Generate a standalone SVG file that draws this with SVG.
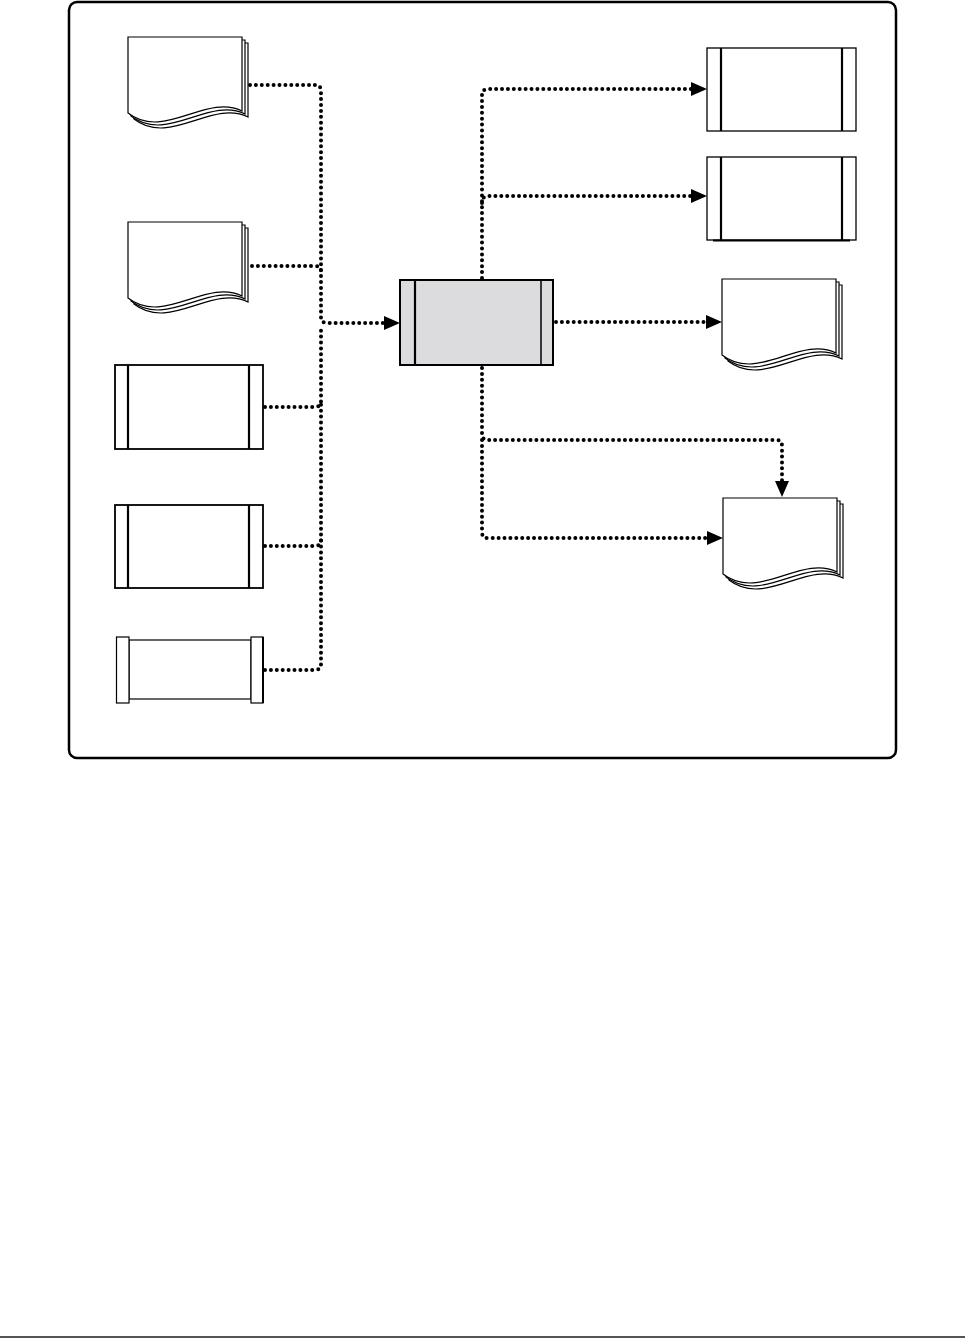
<svg xmlns="http://www.w3.org/2000/svg" width="965" height="1339" viewBox="0 0 965 1339">
<style>
.page{fill:#fff;stroke:#000;stroke-width:1.2}
.proc{fill:#fff;stroke:#000;stroke-width:1.8}
.bar{stroke:#000;stroke-width:2.2}
.conn{fill:none;stroke:#000;stroke-width:4;stroke-linecap:round;stroke-dasharray:0 5.9}
.tip{stroke:none;fill:none}
</style>
<defs>
<marker id="arr" viewBox="0 0 16 14" refX="16" refY="7" markerWidth="16" markerHeight="14" markerUnits="userSpaceOnUse" orient="auto">
<path d="M0,0 L16,7 L0,14 Z" fill="#000"/>
</marker>
<g id="docshape">
<path class="page" d="M6,6 H120 V80 C84,62 42,110 6,82 Z"/>
<path class="page" d="M3,3 H117 V77 C81,59 39,107 3,79 Z"/>
<path class="page" d="M0,0 H114 V74 C78,56 36,104 0,76 Z"/>
</g>
</defs>
<rect x="69" y="2" width="827" height="756" rx="8" fill="none" stroke="#000" stroke-width="2.5"/>
<line x1="0" y1="1337" x2="965" y2="1337" stroke="#555" stroke-width="2"/>
<g id="doc1"><use href="#docshape" x="128" y="37"/></g>
<g id="doc2"><use href="#docshape" x="128" y="222"/></g>
<g id="proc3"><rect class="proc" x="115" y="365" width="148" height="84"/><line class="bar" x1="128" y1="365" x2="128" y2="449"/><line class="bar" x1="249" y1="365" x2="249" y2="449"/></g>
<g id="proc4"><rect class="proc" x="115" y="505" width="148" height="83"/><line class="bar" x1="128" y1="505" x2="128" y2="588"/><line class="bar" x1="249" y1="505" x2="249" y2="588"/></g>
<g id="store5"><rect class="page" x="129" y="640" width="122" height="59" stroke-width="1.5"/><rect class="page" x="116.5" y="637" width="12.5" height="66" stroke-width="1.5"/><rect class="page" x="251" y="637" width="12" height="66" stroke-width="1.5"/><line x1="263" y1="637" x2="263" y2="703" stroke="#000" stroke-width="2"/></g>
<g id="center"><rect x="400" y="280" width="153" height="85" fill="#dcdcde" stroke="#000" stroke-width="2"/><line class="bar" x1="415" y1="280" x2="415" y2="365"/><line x1="541" y1="280" x2="541" y2="365" stroke="#000" stroke-width="1.5"/></g>
<g id="out1"><rect x="707" y="48" width="149" height="83" fill="#fff" stroke="#000" stroke-width="1.3"/><line class="bar" x1="721" y1="48" x2="721" y2="131"/><line class="bar" x1="842" y1="48" x2="842" y2="131"/></g>
<g id="out2"><rect x="707" y="157" width="149" height="83" fill="#fff" stroke="#000" stroke-width="1.3"/><line class="bar" x1="721" y1="157" x2="721" y2="240"/><line class="bar" x1="842" y1="157" x2="842" y2="240"/><line x1="713" y1="240.5" x2="850" y2="240.5" stroke="#000" stroke-width="2"/></g>
<g id="out3"><use href="#docshape" x="722" y="279"/></g>
<g id="out4"><use href="#docshape" x="723" y="498"/></g>
<g id="connectors">
<path class="conn" d="M250,85 H315 Q321,85 321,91 V317 Q321,323 327,323 H386"/>
<path class="conn" d="M252,266 H315 Q321,266 321,272"/>
<path class="conn" d="M265,407 H315 Q321,407 321,401 V329"/>
<path class="conn" d="M265,546 H315 Q321,546 321,540 V400"/>
<path class="conn" d="M265,670 H315 Q321,670 321,664 V540"/>
<path class="tip" d="M384,323 H400" marker-end="url(#arr)"/>
<path class="conn" d="M482,278 V95 Q482,89 488,89 H693"/>
<path class="tip" d="M691,89 H707" marker-end="url(#arr)"/>
<path class="conn" d="M482,203 Q482,196 488,196 H693"/>
<path class="tip" d="M691,196 H707" marker-end="url(#arr)"/>
<path class="conn" d="M556,322 H708"/>
<path class="tip" d="M706,322 H722" marker-end="url(#arr)"/>
<path class="conn" d="M482,368 V434 Q482,440 488,440 H776 Q782,440 782,446 V483"/>
<path class="tip" d="M782,481 V497" marker-end="url(#arr)"/>
<path class="conn" d="M482,440 V532 Q482,538 488,538 H709"/>
<path class="tip" d="M707,538 H723" marker-end="url(#arr)"/>
</g>
</svg>
